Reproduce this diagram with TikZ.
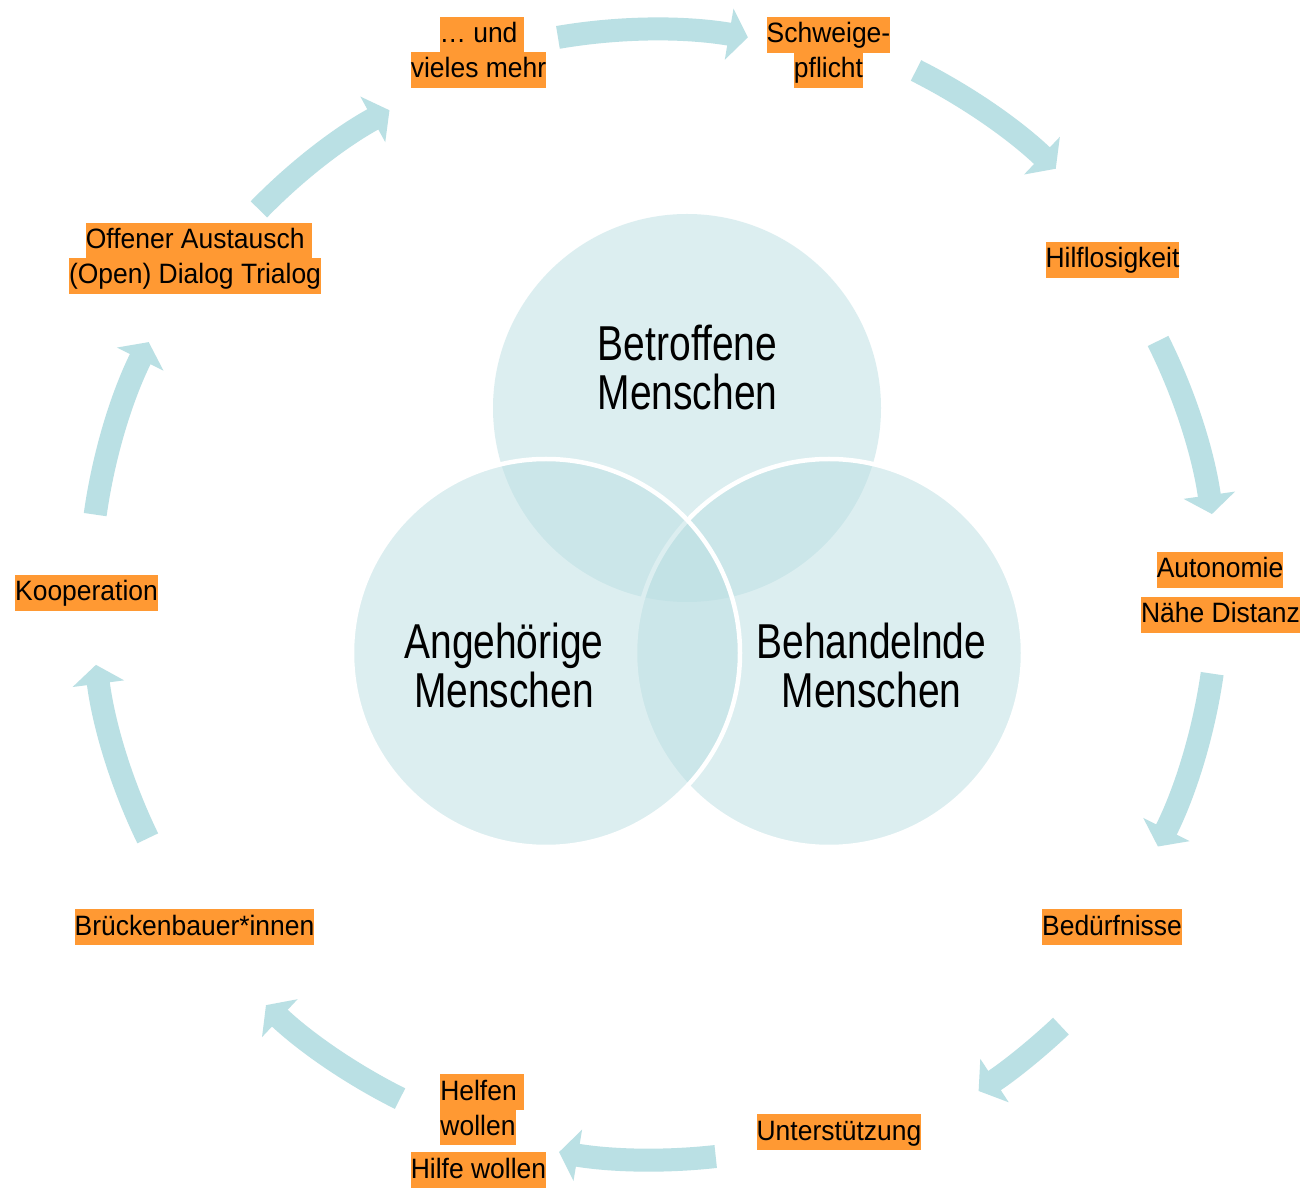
\documentclass[tikz,border=0pt]{standalone}
\usepackage{fontspec}
\setmainfont{Liberation Sans}
\newfontfamily\bigfont{Liberation Sans}[FakeStretch=0.795]
\newfontfamily\lblfont{Liberation Sans}[FakeStretch=0.945]
\usetikzlibrary{arrows.meta}
\definecolor{ringcol}{RGB}{186,224,228}
\definecolor{vennfill}{RGB}{187,223,227}
\definecolor{hilite}{RGB}{255,153,51}
\newcommand\cycarr[4]{%
  \coordinate (#1) at ([shift={(653,594)}]#2:#4);
  \draw[cycarrow] (#1) arc[start angle=#2, end angle=#3, radius=#4];}
\begin{document}
\begin{tikzpicture}[x=1pt,y=1pt,
  cycarrow/.style={draw=ringcol, line width=23pt, -{Triangle[width=51pt,length=19pt]}},
  lbl/.style={fill=hilite, inner sep=0pt, text height=26pt, text depth=10pt,
    font=\lblfont\fontsize{28}{34}\selectfont, text=black},
  venn/.style={circle, inner sep=0pt, minimum size=388pt, fill=vennfill, fill opacity=0.5},
  vtext/.style={anchor=base, font=\bigfont\fontsize{49}{49}\selectfont, inner sep=0pt, text=black}]
\fill[white] (0,0) rectangle (1301,1187);
\useasboundingbox (0,0) rectangle (1301,1187);

% cycle arrows
\cycarr{a1}{99.71}{80.31}{563.7}
\cycarr{a2}{63.28}{46.49}{585}
\cycarr{a3}{26.52}{8.04}{564.5}
\cycarr{a4}{-8.21}{-26.66}{565}
\cycarr{a5}{-46.72}{-56.82}{595}
\cycarr{a6}{-83.65}{-99.54}{567}
\cycarr{a7}{-116.58}{-133.2}{565.4}
\cycarr{a8}{-154.1}{-172.65}{561.7}
\cycarr{a9}{172.0}{153.55}{563.3}
\cycarr{a10}{135.77}{118.63}{550}

% Venn circles
\node[venn] (ctop) at (687,779) {};
\node[venn, draw=white, line width=4.5pt] (cright) at (829,534) {};
\node[venn, draw=white, line width=4.5pt] (cleft) at (546,534) {};

\node[vtext] (t1a) at (687.5,826) {Betroffene};
\node[vtext] (t1b) at (687.5,777) {Menschen};
\node[vtext] (t2a) at (504,528) {Angehörige};
\node[vtext] (t2b) at (504,479) {Menschen};
\node[vtext] (t3a) at (871.5,528) {Behandelnde};
\node[vtext] (t3b) at (871.5,479) {Menschen};

% labels
\node[lbl] (l1a) at (482,1152) {… und\rule{7pt}{0pt}};
\node[lbl] (l1b) at (478.5,1117) {vieles mehr};
\node[lbl] (l2a) at (828.5,1152) {Schweige-};
\node[lbl] (l2b) at (828.5,1117) {pflicht};
\node[lbl] (l3) at (1112.5,927) {Hilflosigkeit};
\node[lbl] (l4a) at (1220,617) {Autonomie};
\node[lbl] (l4b) at (1220.5,572) {Nähe Distanz};
\node[lbl] (l5) at (1112,260) {Bedürfnisse};
\node[lbl] (l6) at (839,55) {Unterstützung};
\node[lbl] (l7a) at (482,95) {Helfen\rule{7pt}{0pt}};
\node[lbl] (l7b) at (478,60) {wollen};
\node[lbl] (l7c) at (478.5,17) {Hilfe wollen};
\node[lbl] (l8) at (194.5,260) {Brückenbauer*innen};
\node[lbl] (l9) at (86.5,594) {Kooperation};
\node[lbl] (l10a) at (198.7,946.3) {Offener Austausch\rule{7pt}{0pt}};
\node[lbl] (l10b) at (195,911.3) {(Open) Dialog Trialog};
\end{tikzpicture}
\end{document}
